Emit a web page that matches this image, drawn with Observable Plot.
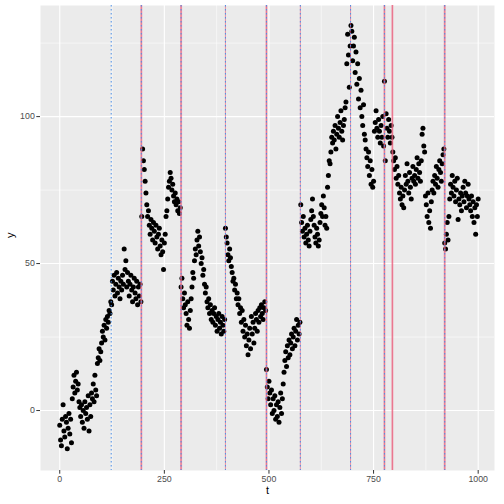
<!DOCTYPE html>
<html>
<head>
<meta charset="utf-8">
<script src="https://cdn.jsdelivr.net/npm/d3@7"></script>
<script src="https://cdn.jsdelivr.net/npm/@observablehq/plot@0.6"></script>
<style>
  html, body { margin: 0; padding: 0; background: white; }
</style>
</head>
<body>
<script>
// Observations: each segment starts at segStart and is sampled every 2 time units
const segStart = [0, 50, 100, 150, 196, 290, 396, 494, 576, 696, 776, 920];
const seg0 = [-5,-10,-12,-3,2,-7,-9,-2,-4,-13,-6,-1,-8,-3,-11,4,8,12,6,10,13,7,9,3,1];
const seg1 = [-2,2,-4,0,-6,3,-1,1,-3,5,-7,2,-2,6,4,9,3,12,7,5,16,18,21,17,20];
const seg2 = [23,27,25,29,24,31,28,32,30,34,33,37,36,44,41,46,39,43,47,40,45,42,38,44,41];
const seg3 = [46,43,55,48,51,42,47,44,39,43,46,41,37,42,45,40,38,44,36,42,39,43,37];
const seg4 = [66,89,85,82,78,74,70,66,68,63,60,65,62,58,64,61,57,63,59,55,60,62,56,53,58,54,48,57,60,66,68,72,76,78,81,79,75,77,73,71,74,70,72,68,71,67,69];
const seg5 = [42,45,38,35,40,36,33,29,37,31,28,34,38,42,47,45,51,55,53,58,61,56,59,54,50,52,46,48,43,40,42,37,35,38,33,36,31,34,30,33,35,29,32,27,31,33,28,30,26,32,29,27,31];
const seg6 = [62,59,57,53,51,55,52,49,47,44,45,41,43,38,40,36,38,33,35,30,34,27,31,25,29,22,26,19,24,28,21,32,26,30,23,28,33,31,27,34,30,35,32,36,33,31,35,37,34];
const seg7 = [14,8,4,10,6,2,7,-1,4,0,5,-3,2,-2,3,-4,1,6,-1,4,9,13,17,20,15,22,18,24,19,23,26,21,25,28,22,27,31,24,29,26,30];
const seg8 = [70,64,61,66,59,62,57,60,63,58,56,61,65,68,72,66,63,59,57,62,60,56,58,64,67,70,66,73,69,63,66,62,76,80,85,84,88,93,91,95,92,97,89,94,100,96,93,98,102,95,92,97,99,103,105,118,128,121,110,124];
const seg9 = [131,129,119,124,127,115,122,111,118,106,113,103,109,100,97,104,94,92,89,86,83,88,80,85,77,82,76,78,95,98,102,96,93,99,95,91,97,93,100,90];
const seg10 = [112,85,101,96,93,99,95,91,97,93,88,85,82,86,79,83,77,80,74,72,76,70,73,69,75,80,77,84,78,74,81,76,72,79,83,78,80,77,82,86,79,84,81,78,85,94,96,90,88,73,70,66,74,64,68,62,71,75,78,74,80,77,83,79,76,82,85,81,78,84,87,89];
const seg11 = [57,55,60,64,58,66,72,77,74,80,76,73,78,71,75,79,65,72,70,74,68,73,76,71,78,74,69,73,77,72,70,68,73,66,71,64,69,60,70,66,72];
const segments = [seg0, seg1, seg2, seg3, seg4, seg5, seg6, seg7, seg8, seg9, seg10, seg11];

// Detected change points
const redLines = [195, 290, 396, 494, 575, 695, 776, 795, 920];
const redThick = [195, 290, 494, 776, 795, 920];
const blueLines = [123, 195, 290, 396, 494, 575, 695, 776, 920];

const xTicks = [0, 250, 500, 750, 1000];
const xMinor = [125, 375, 625, 875];
const yTicks = [0, 50, 100];
const yMinor = [25, 75, 125];

const data = [];
segments.forEach((seg, k) => seg.forEach((v, i) => data.push({t: segStart[k] + 2 * i, y: v})));

const chart = Plot.plot({
  width: 504,
  height: 504,
  marginLeft: 40,
  marginRight: 10,
  marginTop: 5,
  marginBottom: 34,
  style: {fontFamily: "'Liberation Sans', Arial, sans-serif", fontSize: "8.8px", color: "#4D4D4D", background: "white"},
  x: {domain: [-46, 1039]},
  y: {domain: [-20.4, 137.8]},
  marks: [
    Plot.frame({fill: "#EBEBEB", stroke: null}),
    Plot.ruleX(xMinor, {stroke: "white", strokeWidth: 0.55}),
    Plot.ruleY(yMinor, {stroke: "white", strokeWidth: 0.55}),
    Plot.ruleX(xTicks, {stroke: "white", strokeWidth: 1.1}),
    Plot.ruleY(yTicks, {stroke: "white", strokeWidth: 1.1}),
    Plot.dot(data, {x: "t", y: "y", r: 2.5, fill: "black", stroke: null}),
    Plot.ruleX(redThick, {stroke: "#F27A93", strokeOpacity: 0.6, strokeWidth: 2}),
    Plot.ruleX(redLines, {stroke: "#E8506E", strokeOpacity: 0.85, strokeWidth: 0.7}),
    Plot.ruleX(blueLines, {stroke: "#4C8FE8", strokeWidth: 1, strokeDasharray: "1.5,2.5"}),
    Plot.axisX(xTicks, {tickSize: 3.7, tickPadding: 2, stroke: "#333333", fill: "#4D4D4D", label: null, fontSize: 8.8, tickFormat: d => String(d)}),
    Plot.axisY(yTicks, {tickSize: 3.7, tickPadding: 2, stroke: "#333333", fill: "#4D4D4D", label: null, fontSize: 8.8, tickFormat: d => String(d)}),
    Plot.text(["t"], {frameAnchor: "bottom", dy: 23, fontSize: 11, fill: "black"}),
    Plot.text(["y"], {frameAnchor: "left", dx: -30, rotate: -90, fontSize: 11, fill: "black"})
  ]
});
document.body.appendChild(chart);
</script>
</body>
</html>
